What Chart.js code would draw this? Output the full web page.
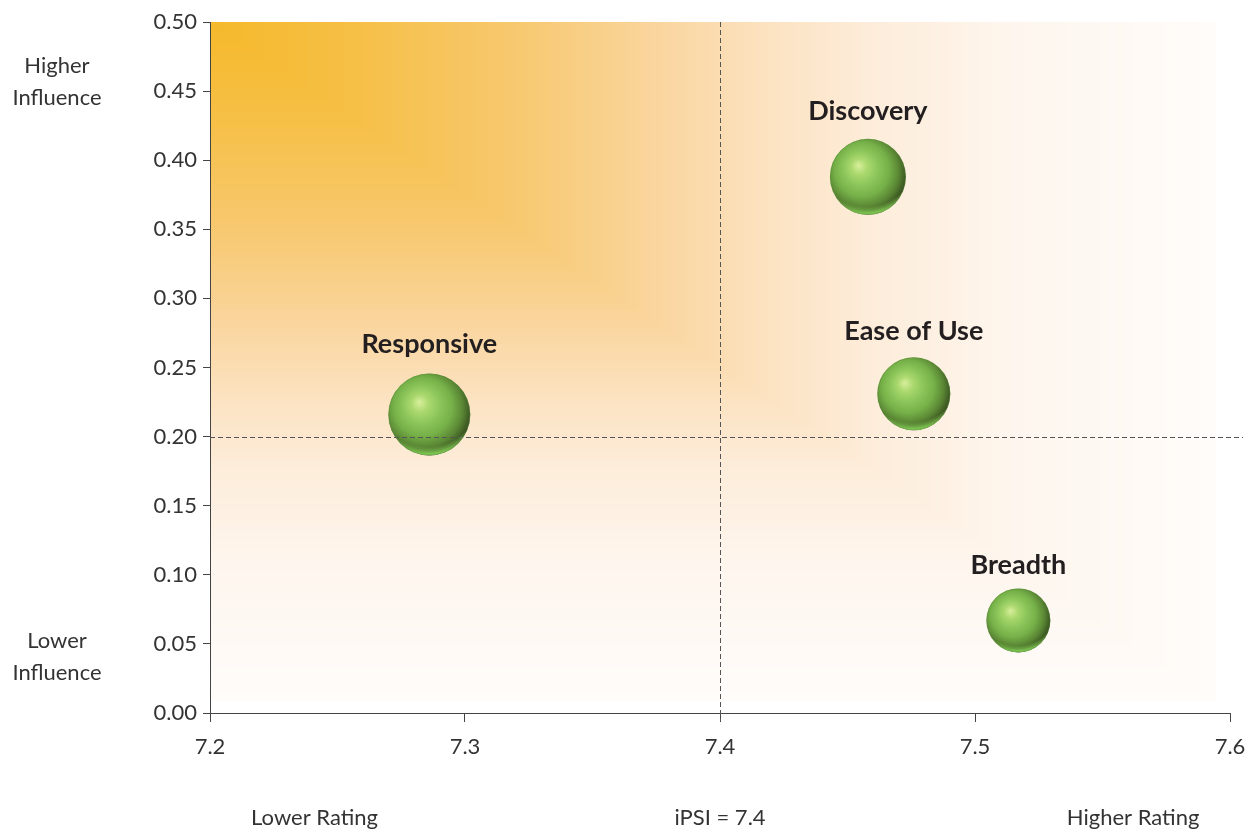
<!DOCTYPE html>
<html>
<head>
<meta charset="utf-8">
<title>Attribute rating vs influence</title>
<script src="https://cdn.jsdelivr.net/npm/chart.js@4.4.1/dist/chart.umd.min.js"></script>
<style>
  html, body { margin: 0; padding: 0; background: #ffffff; }
  #wrap { width: 1251px; height: 833px; }
</style>
</head>
<body>
<div id="wrap"><canvas id="chart" width="1251" height="833"></canvas></div>
<script>
// Attributes, their rating (x) and influence (y), bubble radius in px
const categories = ['Responsive', 'Discovery', 'Ease of Use', 'Breadth'];
const ratings    = [7.286, 7.458, 7.476, 7.517];
const influence  = [0.216, 0.388, 0.231, 0.067];
const bubbleSize = [41, 38, 36.5, 32];

// Axis ticks
const xTicks = [7.2, 7.3, 7.4, 7.5, 7.6];
const yTicks = [0, 0.05, 0.10, 0.15, 0.20, 0.25, 0.30, 0.35, 0.40, 0.45, 0.50];

// Reference lines
const benchmarkRating = 7.4;     // iPSI
const benchmarkInfluence = 0.20;

// Outer captions
const bottomCaptions = [
  { text: 'Lower Rating', at: 7.2 + 0.041 },
  { text: 'iPSI = 7.4', at: 7.4 },
  { text: 'Higher Rating', at: 7.6 - 0.038 }
];
const sideCaptions = [
  { lines: ['Higher', 'Influence'], at: 0.457 },
  { lines: ['Lower', 'Influence'], at: 0.0405 }
];

const FONT = 'Lato, "Open Sans", "DejaVu Sans", sans-serif';
const TEXT = '#333333';

// Warm corner shading: rectangular gradient radiating from the top-left
const shadeStops = [
  [0.00, [246, 185, 43]],
  [0.15, [246, 192, 72]],
  [0.30, [247, 200, 110]],
  [0.45, [250, 214, 160]],
  [0.55, [252, 226, 192]],
  [0.65, [253, 236, 217]],
  [0.80, [254, 246, 238]],
  [1.00, [255, 252, 250]]
];
function shadeAt(t) {
  t = Math.max(0, Math.min(1, t));
  for (let i = 1; i < shadeStops.length; i++) {
    const [t1, c1] = shadeStops[i];
    const [t0, c0] = shadeStops[i - 1];
    if (t <= t1) {
      const k = (t - t0) / (t1 - t0);
      return [0, 1, 2].map(j => c0[j] + (c1[j] - c0[j]) * k);
    }
  }
  return shadeStops[shadeStops.length - 1][1];
}

let shadeCache = null;
const backgroundShade = {
  id: 'backgroundShade',
  beforeDatasetsDraw(chart) {
    const xs = chart.scales.x, ys = chart.scales.y;
    const x0 = Math.round(xs.getPixelForValue(7.2)), x1 = Math.round(xs.getPixelForValue(7.594));
    const y0 = Math.round(ys.getPixelForValue(0.5)), y1 = Math.round(ys.getPixelForValue(0.009));
    const w = x1 - x0, h = y1 - y0;
    if (!shadeCache || shadeCache.width !== w || shadeCache.height !== h) {
      shadeCache = document.createElement('canvas');
      shadeCache.width = w; shadeCache.height = h;
      const c = shadeCache.getContext('2d');
      const img = c.createImageData(w, h);
      for (let py = 0; py < h; py++) {
        const v = py / h;
        for (let px = 0; px < w; px++) {
          const u = px / w;
          const col = shadeAt(Math.max(u, v));
          const idx = (py * w + px) * 4;
          img.data[idx] = col[0]; img.data[idx + 1] = col[1]; img.data[idx + 2] = col[2]; img.data[idx + 3] = 255;
        }
      }
      c.putImageData(img, 0, 0);
    }
    const ctx = chart.ctx;
    ctx.save();
    ctx.drawImage(shadeCache, x0 + 1, y0);
    // redraw the axis line on top of the shading
    ctx.strokeStyle = '#444444';
    ctx.lineWidth = 1;
    ctx.beginPath();
    ctx.moveTo(x0 + 0.5, y0);
    ctx.lineTo(x0 + 0.5, ys.getPixelForValue(0));
    ctx.stroke();
    ctx.restore();
  }
};

// Dashed benchmark lines, value labels and outer captions
const overlays = {
  id: 'overlays',
  afterDatasetsDraw(chart) {
    const ctx = chart.ctx, xs = chart.scales.x, ys = chart.scales.y, area = chart.chartArea;
    ctx.save();
    ctx.strokeStyle = '#555555';
    ctx.lineWidth = 1;
    ctx.setLineDash([5, 3]);
    const bx = Math.round(xs.getPixelForValue(benchmarkRating)) + 0.5;
    const by = Math.round(ys.getPixelForValue(benchmarkInfluence)) + 0.5;
    ctx.beginPath();
    ctx.moveTo(bx, area.top);
    ctx.lineTo(bx, area.bottom + 8);
    ctx.moveTo(area.left, by);
    ctx.lineTo(area.right + 13, by);
    ctx.stroke();
    ctx.setLineDash([]);

    // bubble names
    const meta = chart.getDatasetMeta(0);
    ctx.fillStyle = '#231f20';
    ctx.font = 'bold 27px ' + FONT;
    ctx.textAlign = 'center';
    ctx.textBaseline = 'middle';
    meta.data.forEach((el, i) => {
      const r = bubbleSize[i];
      ctx.fillText(categories[i], el.x, el.y - 1.72 * r);
    });

    // outer captions
    ctx.fillStyle = TEXT;
    ctx.font = '22px ' + FONT;
    bottomCaptions.forEach(c => {
      ctx.fillText(c.text, xs.getPixelForValue(c.at), 818);
    });
    sideCaptions.forEach(c => {
      const cy = ys.getPixelForValue(c.at);
      ctx.fillText(c.lines[0], 57, cy - 16);
      ctx.fillText(c.lines[1], 57, cy + 16);
    });
    ctx.restore();
  }
};

// Glossy sphere fill for each bubble
function sphereFill(context) {
  const chart = context.chart;
  if (context.type !== 'data' || !chart.chartArea || !chart.scales.x) return '#7cc04a';
  const raw = context.raw;
  const cx = chart.scales.x.getPixelForValue(raw.x);
  const cy = chart.scales.y.getPixelForValue(raw.y);
  const r = raw.r;
  const g = chart.ctx.createRadialGradient(cx - 0.25 * r, cy - 0.3 * r, 0, cx - 0.1 * r, cy - 0.12 * r, 1.2 * r);
  g.addColorStop(0.00, '#d8ef9c');
  g.addColorStop(0.18, '#aad86e');
  g.addColorStop(0.38, '#8cc65a');
  g.addColorStop(0.60, '#75b048');
  g.addColorStop(0.79, '#5a8634');
  g.addColorStop(0.92, '#3d5923');
  g.addColorStop(1.00, '#2f451c');
  return g;
}

// Bottom rim light on each sphere
const sphereRim = {
  id: 'sphereRim',
  afterDatasetsDraw(chart) {
    const ctx = chart.ctx;
    const meta = chart.getDatasetMeta(0);
    meta.data.forEach((el, i) => {
      const r = bubbleSize[i];
      ctx.save();
      ctx.beginPath();
      ctx.arc(el.x, el.y, r, 0, Math.PI * 2);
      ctx.clip();
      const g = ctx.createRadialGradient(el.x - 0.05 * r, el.y - 0.55 * r, 0, el.x - 0.05 * r, el.y - 0.55 * r, 1.55 * r);
      g.addColorStop(0.0, 'rgba(130,200,80,0)');
      g.addColorStop(0.86, 'rgba(130,200,80,0)');
      g.addColorStop(0.97, 'rgba(128,200,84,0.95)');
      g.addColorStop(1.0, 'rgba(128,200,84,1)');
      ctx.fillStyle = g;
      ctx.fillRect(el.x - r, el.y - r, 2 * r, 2 * r);
      ctx.restore();
      // soft edge
      ctx.save();
      ctx.beginPath();
      ctx.arc(el.x, el.y, r - 0.5, 0, Math.PI * 2);
      ctx.strokeStyle = 'rgba(90,140,55,0.35)';
      ctx.lineWidth = 1;
      ctx.stroke();
      ctx.restore();
    });
  }
};

const points = categories.map((name, i) => ({ x: ratings[i], y: influence[i], r: bubbleSize[i] }));

new Chart(document.getElementById('chart'), {
  type: 'bubble',
  data: {
    datasets: [{
      label: 'Attributes',
      data: points,
      backgroundColor: sphereFill,
      borderWidth: 0,
      hoverBorderWidth: 0
    }]
  },
  options: {
    responsive: false,
    animation: false,
    events: [],
    layout: { autoPadding: false, padding: { top: 22, right: 21, left: 0, bottom: 0 } },
    plugins: {
      legend: { display: false },
      tooltip: { enabled: false }
    },
    scales: {
      x: {
        type: 'linear',
        min: xTicks[0],
        max: xTicks[xTicks.length - 1],
        afterBuildTicks: s => { s.ticks = xTicks.map(v => ({ value: v })); },
        afterFit: s => { s.height = 120; s.paddingLeft = 0; s.paddingRight = 0; },
        grid: { drawOnChartArea: false, drawTicks: true, tickLength: 9, color: '#444444' },
        border: { display: true, color: '#444444', width: 1 },
        ticks: {
          color: TEXT,
          font: { family: FONT, size: 22 },
          padding: 12,
          maxRotation: 0,
          callback: v => Number(v).toFixed(1)
        }
      },
      y: {
        type: 'linear',
        min: yTicks[0],
        max: yTicks[yTicks.length - 1],
        afterBuildTicks: s => { s.ticks = yTicks.map(v => ({ value: v })); },
        afterFit: s => { s.width = 210; s.paddingTop = 0; s.paddingBottom = 0; },
        grid: { drawOnChartArea: false, drawTicks: true, tickLength: 7, color: '#444444' },
        border: { display: true, color: '#444444', width: 1 },
        ticks: {
          color: TEXT,
          font: { family: FONT, size: 22 },
          padding: 6,
          callback: v => Number(v).toFixed(2)
        }
      }
    }
  },
  plugins: [backgroundShade, overlays, sphereRim]
});
</script>
</body>
</html>
